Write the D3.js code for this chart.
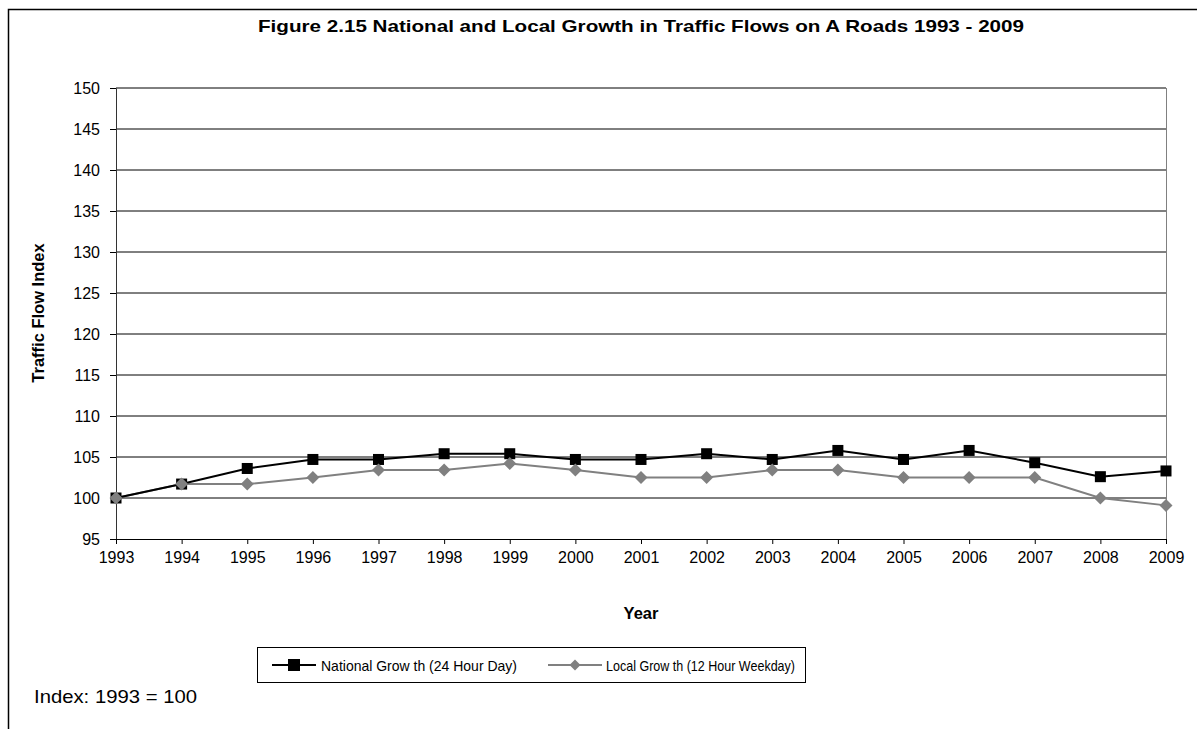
<!DOCTYPE html>
<html><head><meta charset="utf-8">
<script src="https://cdn.jsdelivr.net/npm/d3@7"></script>
<style>body{margin:0;background:#fff;}svg{display:block;font-family:"Liberation Sans",Arial,sans-serif;}</style>
</head><body><svg id="c" width="1197" height="729"></svg>
<script>
const years = [1993,1994,1995,1996,1997,1998,1999,2000,2001,2002,2003,2004,2005,2006,2007,2008,2009];
const national = [100,101.7,103.6,104.7,104.7,105.4,105.4,104.7,104.7,105.4,104.7,105.8,104.7,105.8,104.3,102.6,103.3];
const local = [100,101.7,101.7,102.5,103.4,103.4,104.2,103.4,102.5,102.5,103.4,103.4,102.5,102.5,102.5,100,99.1];
const yTicks = [95,100,105,110,115,120,125,130,135,140,145,150];
const seriesNames = ["National Grow th (24 Hour Day)","Local Grow th (12 Hour Weekday)"];

const svg = d3.select("#c");
svg.append("path").attr("d","M8.5,729 L8.5,9.5 L1197,9.5").attr("fill","none").attr("stroke","#000").attr("stroke-width",1.5);

const L=116,R=1166,T=88,B=539;
const x = d3.scalePoint().domain(years).range([L,R]);
const y = d3.scaleLinear().domain([95,150]).range([B,T]);

svg.append("g").selectAll("line").data(yTicks.filter(d=>d>95)).join("line")
  .attr("x1",L).attr("x2",R).attr("y1",d=>y(d)).attr("y2",d=>y(d))
  .attr("stroke","#000").attr("stroke-width",1);
svg.append("line").attr("x1",R+0.5).attr("x2",R+0.5).attr("y1",T).attr("y2",B).attr("stroke","#808080");

const ya = svg.append("g").attr("transform",`translate(${L},0)`)
  .call(d3.axisLeft(y).tickValues(yTicks).tickSize(6).tickPadding(10));
const xa = svg.append("g").attr("transform",`translate(0,${B})`)
  .call(d3.axisBottom(x).tickValues(years).tickSize(5).tickPadding(8).tickFormat(d3.format("d")));
[ya,xa].forEach(g=>{
  g.attr("font-size",null).attr("font-family",null);
  g.selectAll("path,line").attr("stroke","#000");
  g.selectAll("text").style("font-size","16px").attr("fill","#000");
});
ya.select(".domain").attr("stroke","#333");

const line = d3.line().x((d,i)=>x(years[i])).y(d=>y(d));
svg.append("path").datum(local).attr("d",line).attr("fill","none").attr("stroke","#808080").attr("stroke-width",2);
svg.append("path").datum(national).attr("d",line).attr("fill","none").attr("stroke","#000").attr("stroke-width",2);
svg.append("g").selectAll("rect").data(national).join("rect")
  .attr("x",(d,i)=>x(years[i])-5.5).attr("y",d=>y(d)-5.5).attr("width",11).attr("height",11).attr("fill","#000");
svg.append("g").selectAll("path").data(local).join("path")
  .attr("d","M0,-6.5L6.5,0L0,6.5L-6.5,0Z")
  .attr("transform",(d,i)=>`translate(${x(years[i])},${y(d)})`).attr("fill","#808080");

svg.append("text").attr("x",641).attr("y",32).attr("text-anchor","middle").attr("textLength",766).attr("lengthAdjust","spacingAndGlyphs")
  .attr("font-weight","bold").style("font-size","17px").text("Figure 2.15 National and Local Growth in Traffic Flows on A Roads 1993 - 2009");
svg.append("text").attr("transform","translate(44,313) rotate(-90)").attr("text-anchor","middle").attr("font-weight","bold").style("font-size","16.5px").text("Traffic Flow Index");
svg.append("text").attr("x",641).attr("y",619).attr("text-anchor","middle").attr("font-weight","bold").style("font-size","16.5px").text("Year");
svg.append("text").attr("x",34).attr("y",703).attr("textLength",163).attr("lengthAdjust","spacingAndGlyphs").style("font-size","19px").text("Index: 1993 = 100");

const lg = svg.append("g");
lg.append("rect").attr("x",257.5).attr("y",647.5).attr("width",548).attr("height",35).attr("fill","#fff").attr("stroke","#000");
lg.append("line").attr("x1",272).attr("x2",316).attr("y1",665).attr("y2",665).attr("stroke","#000").attr("stroke-width",2);
lg.append("rect").attr("x",288).attr("y",659).attr("width",12).attr("height",12).attr("fill","#000");
lg.append("text").attr("x",321).attr("y",671).attr("textLength",196).attr("lengthAdjust","spacingAndGlyphs").style("font-size","15px").text(seriesNames[0]);
lg.append("line").attr("x1",548).attr("x2",602).attr("y1",665).attr("y2",665).attr("stroke","#808080").attr("stroke-width",2);
lg.append("path").attr("d","M0,-5.5L5.5,0L0,5.5L-5.5,0Z").attr("transform","translate(575,665)").attr("fill","#808080");
lg.append("text").attr("x",606).attr("y",671).attr("textLength",189).attr("lengthAdjust","spacingAndGlyphs").style("font-size","15px").text(seriesNames[1]);
</script></body></html>
